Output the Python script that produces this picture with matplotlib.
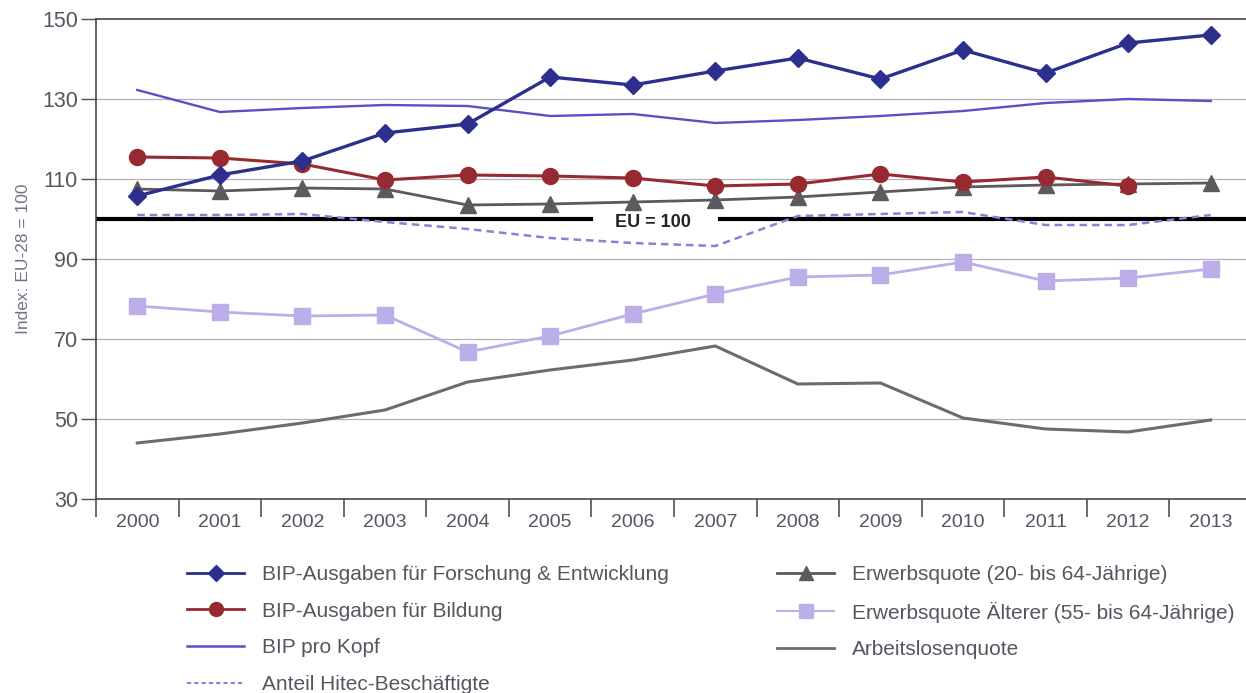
import numpy as np
import matplotlib
matplotlib.use("Agg")
import matplotlib.pyplot as plt
from matplotlib.lines import Line2D

years = ["2000", "2001", "2002", "2003", "2004", "2005", "2006",
         "2007", "2008", "2009", "2010", "2011", "2012", "2013"]

forschung = [105.75, 111, 114.5, 121.5, 123.75, 135.5, 133.5,
             137, 140.25, 135, 142.25, 136.5, 144, 146]
bildung = [115.5, 115.25, 113.75, 109.75, 111, 110.75, 110.25,
           108.25, 108.75, 111.25, 109.25, 110.5, 108.25, np.nan]
bip_kopf = [132.25, 126.75, 127.75, 128.5, 128.25, 125.75, 126.25,
            124, 124.75, 125.75, 127, 129, 130, 129.5]
hitec = [101, 101, 101.25, 99.25, 97.5, 95.25, 94,
         93.25, 100.75, 101.25, 101.75, 98.5, 98.5, 101]
erwerb = [107.5, 107, 107.75, 107.5, 103.5, 103.75, 104.25,
          104.75, 105.5, 106.75, 108, 108.5, 108.75, 109]
erwerb_alt = [78.25, 76.75, 75.75, 76, 66.75, 70.75, 76.25,
              81.25, 85.5, 86, 89.25, 84.5, 85.25, 87.5]
arbeitslos = [44, 46.25, 49, 52.25, 59.25, 62.25, 64.75,
              68.25, 58.75, 59, 50.25, 47.5, 46.75, 49.75]

c_fe = "#2d2f8f"
c_bild = "#962a30"
c_kopf = "#5a4fc4"
c_hitec = "#8a80d8"
c_erw = "#5c5a5c"
c_alt = "#bcaee8"
c_alq = "#6e6a70"
c_text = "#5a5360"

plt.rcParams["font.family"] = ["Liberation Sans", "DejaVu Sans"]

fig = plt.figure(figsize=(12.46, 6.93), dpi=100)
ax = fig.add_axes([96 / 1246, 1 - 499 / 693, 1156 / 1246, 480 / 693])

x = np.arange(len(years))

for v in [50, 70, 90, 110, 130]:
    ax.axhline(v, color="#b4aebb", lw=0.9, zorder=0)

ax.axhline(100, xmin=0, xmax=0.428, color="black", lw=3, zorder=1)
ax.axhline(100, xmin=0.54, xmax=1, color="black", lw=3, zorder=1)
ax.text(6.25, 99.2, "EU = 100", ha="center", va="center", fontsize=13,
        fontweight="bold", color="#222222")

ax.plot(x, arbeitslos, color=c_alq, lw=2.2, zorder=2)
ax.plot(x, erwerb_alt, color=c_alt, lw=2, marker="s", ms=11, zorder=3)
ax.plot(x, hitec, color=c_hitec, lw=1.8, ls=(0, (3, 2)), zorder=2)
ax.plot(x, erwerb, color=c_erw, lw=2, marker="^", ms=11, zorder=3)
ax.plot(x, bip_kopf, color=c_kopf, lw=1.7, zorder=2)
ax.plot(x, bildung, color=c_bild, lw=2.2, marker="o", ms=11.5, zorder=4)
ax.plot(x, forschung, color=c_fe, lw=2.4, marker="D", ms=9.5, zorder=5)

ax.set_xlim(-0.5, 13.5)
ax.set_ylim(30, 150)
ax.set_yticks([30, 50, 70, 90, 110, 130, 150])
ax.set_xticks(x)
ax.set_xticklabels(years)
ax.set_xticks(np.arange(-0.5, 14, 1), minor=True)
ax.tick_params(axis="x", which="major", length=0, pad=11,
               labelsize=14, labelcolor=c_text)
ax.tick_params(axis="x", which="minor", length=13, width=1.2,
               color="#555055", direction="out")
ax.tick_params(axis="y", length=11, width=1, color="#555055",
               labelsize=15.5, labelcolor=c_text, pad=2)

for s in ["left", "bottom", "top"]:
    ax.spines[s].set_color("#4a454d")
    ax.spines[s].set_linewidth(1.2)
ax.spines["right"].set_visible(False)

ax.set_ylabel("Index: EU-28 = 100", fontsize=12.5, color="#7a6e88",
              labelpad=8)

h_left = [
    Line2D([], [], color=c_fe, lw=2, marker="D", ms=8),
    Line2D([], [], color=c_bild, lw=2, marker="o", ms=10),
    Line2D([], [], color=c_kopf, lw=1.8),
    Line2D([], [], color=c_hitec, lw=1.5, ls=(0, (2, 1.5))),
]
l_left = ["BIP-Ausgaben für Forschung & Entwicklung",
          "BIP-Ausgaben für Bildung",
          "BIP pro Kopf",
          "Anteil Hitec-Beschäftigte"]
h_right = [
    Line2D([], [], color=c_erw, lw=2, marker="^", ms=10),
    Line2D([], [], color=c_alt, lw=1.5, marker="s", ms=10),
    Line2D([], [], color=c_alq, lw=2),
]
l_right = ["Erwerbsquote (20- bis 64-Jährige)",
           "Erwerbsquote Älterer (55- bis 64-Jährige)",
           "Arbeitslosenquote"]

leg_kw = dict(loc="upper left", frameon=False, fontsize=15,
              handlelength=2.75, handletextpad=0.85, labelspacing=0.85,
              labelcolor=c_text, borderaxespad=0, borderpad=0)
fig.legend(h_left, l_left, bbox_to_anchor=(187 / 1246, 1 - 565 / 693), **leg_kw)
fig.legend(h_right, l_right, bbox_to_anchor=(777 / 1246, 1 - 565 / 693), **leg_kw)

fig.savefig("out.png", dpi=100, facecolor="white")
